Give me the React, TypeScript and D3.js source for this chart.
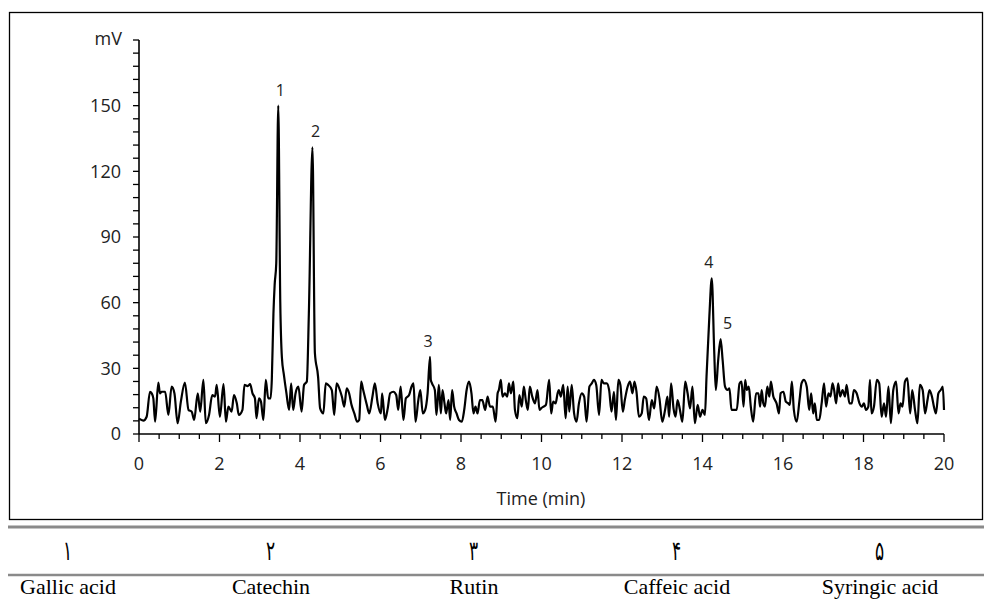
import React from "react";
import * as d3 from "d3";

const timeMin = [
  0.0, 0.108, 0.19, 0.273, 0.315, 0.356, 0.4, 0.48, 0.52, 0.56, 0.65, 0.73, 0.81, 0.88, 0.96, 1.04, 1.14, 1.23, 1.31, 1.37,
  1.46, 1.52, 1.6, 1.66, 1.74, 1.82, 1.89, 1.93, 2.01, 2.1, 2.16, 2.22, 2.3, 2.36, 2.43, 2.48, 2.57, 2.62, 2.7, 2.76,
  2.82, 2.88, 2.92, 2.98, 3.03, 3.09, 3.15, 3.21, 3.27, 3.3, 3.34, 3.37, 3.41, 3.46, 3.51, 3.55, 3.6, 3.66, 3.73, 3.78,
  3.83, 3.89, 3.96, 4.04, 4.1, 4.17, 4.22, 4.31, 4.37, 4.45, 4.5, 4.58, 4.64, 4.7, 4.79, 4.85, 4.91, 4.99, 5.04, 5.1,
  5.16, 5.22, 5.28, 5.35, 5.42, 5.47, 5.52, 5.57, 5.66, 5.72, 5.8, 5.86, 5.93, 6.01, 6.04, 6.11, 6.18, 6.24, 6.32, 6.39,
  6.44, 6.5, 6.57, 6.63, 6.71, 6.77, 6.82, 6.87, 6.94, 6.99, 7.05, 7.11, 7.17, 7.23, 7.25, 7.28, 7.35, 7.39, 7.45, 7.5,
  7.54, 7.59, 7.63, 7.69, 7.73, 7.78, 7.83, 7.89, 7.95, 8.02, 8.08, 8.14, 8.2, 8.26, 8.31, 8.36, 8.41, 8.47, 8.53, 8.6,
  8.66, 8.72, 8.79, 8.86, 8.91, 8.94, 8.99, 9.03, 9.09, 9.15, 9.19, 9.24, 9.3, 9.34, 9.4, 9.45, 9.51, 9.56, 9.61, 9.66,
  9.71, 9.77, 9.84, 9.9, 9.95, 9.99, 10.05, 10.11, 10.19, 10.24, 10.29, 10.35, 10.4, 10.43, 10.48, 10.54, 10.6, 10.65, 10.69, 10.75,
  10.81, 10.87, 10.93, 11.0, 11.06, 11.12, 11.19, 11.25, 11.3, 11.36, 11.43, 11.49, 11.55, 11.62, 11.68, 11.74, 11.8, 11.85, 11.91, 11.96,
  12.02, 12.07, 12.14, 12.2, 12.26, 12.31, 12.36, 12.42, 12.49, 12.54, 12.6, 12.67, 12.74, 12.8, 12.86, 12.93, 13.0, 13.07, 13.13, 13.17,
  13.22, 13.28, 13.33, 13.38, 13.44, 13.5, 13.57, 13.63, 13.69, 13.75, 13.81, 13.88, 13.94, 14.0, 14.06, 14.1, 14.17, 14.23, 14.29, 14.33,
  14.39, 14.45, 14.5, 14.56, 14.62, 14.67, 14.72, 14.78, 14.85, 14.92, 14.97, 15.02, 15.06, 15.1, 15.15, 15.2, 15.26, 15.33, 15.39, 15.43,
  15.47, 15.51, 15.55, 15.61, 15.66, 15.7, 15.76, 15.8, 15.84, 15.9, 15.94, 16.01, 16.07, 16.13, 16.17, 16.22, 16.27, 16.34, 16.41, 16.46,
  16.52, 16.59, 16.65, 16.7, 16.75, 16.79, 16.84, 16.9, 16.96, 17.02, 17.07, 17.13, 17.18, 17.23, 17.27, 17.32, 17.37, 17.42, 17.48, 17.54,
  17.58, 17.65, 17.71, 17.76, 17.83, 17.9, 17.96, 18.01, 18.06, 18.12, 18.16, 18.2, 18.26, 18.33, 18.39, 18.45, 18.51, 18.56, 18.62, 18.68,
  18.74, 18.81, 18.87, 18.92, 18.97, 19.03, 19.09, 19.16, 19.21, 19.28, 19.34, 19.4, 19.47, 19.53, 19.59, 19.64, 19.7, 19.75, 19.8, 19.86,
  19.92, 19.97, 20.0,
];

const signalMv = [
  7.0, 6.1, 7.9, 19.3, 18.6, 16.3, 5.6, 23.5, 18.6, 19.3, 19.3, 8.7, 21.6, 18.6, 4.9, 14.8, 23.5, 11.0, 10.2, 6.4,
  18.6, 10.2, 24.7, 4.9, 8.7, 17.8, 17.1, 22.4, 7.9, 22.8, 5.6, 12.5, 10.2, 17.8, 14.0, 8.7, 11.0, 22.4, 21.9, 22.8,
  18.6, 16.3, 7.2, 16.3, 14.8, 6.4, 24.7, 16.3, 16.3, 25.0, 55.0, 68.0, 78.0, 150.0, 60.0, 35.0, 27.0, 19.0, 11.0, 23.1,
  11.0, 18.6, 21.6, 10.2, 22.4, 24.0, 55.0, 131.0, 37.0, 26.0, 11.7, 9.4, 23.1, 22.4, 20.1, 8.7, 23.1, 20.1, 17.1, 12.5,
  20.9, 18.6, 13.3, 9.4, 5.6, 6.4, 23.9, 20.1, 13.3, 9.4, 17.1, 23.1, 14.0, 9.4, 18.6, 6.4, 11.7, 18.6, 19.3, 17.8,
  11.0, 21.6, 6.4, 16.3, 17.8, 21.6, 23.1, 5.6, 15.5, 20.1, 9.4, 11.0, 18.6, 35.3, 24.7, 23.1, 20.1, 8.7, 22.4, 9.4,
  20.1, 14.0, 9.4, 15.5, 6.4, 20.1, 12.5, 9.4, 6.4, 5.6, 11.0, 20.1, 23.9, 18.6, 9.4, 12.5, 9.4, 15.5, 15.5, 11.0,
  17.1, 12.5, 12.5, 5.6, 18.6, 20.1, 24.7, 17.1, 18.6, 17.1, 23.1, 18.6, 23.9, 11.0, 7.2, 17.8, 12.5, 21.6, 15.5, 11.0,
  21.6, 17.1, 14.0, 20.1, 11.0, 11.7, 12.5, 13.3, 24.7, 9.4, 14.8, 14.0, 18.6, 20.1, 17.1, 22.4, 7.2, 21.6, 10.2, 22.4,
  9.4, 5.6, 14.0, 18.6, 17.1, 5.6, 21.6, 23.1, 24.7, 22.4, 8.7, 24.7, 23.1, 23.1, 20.1, 10.2, 19.3, 6.4, 24.7, 22.4,
  10.2, 15.5, 21.6, 23.9, 18.6, 23.9, 19.3, 7.9, 9.4, 17.1, 16.3, 6.4, 15.5, 11.7, 21.6, 16.3, 5.6, 11.0, 17.1, 7.9,
  23.1, 11.7, 7.9, 15.5, 11.0, 5.6, 23.9, 18.6, 11.7, 21.6, 4.9, 13.3, 7.9, 11.0, 8.7, 26.2, 53.6, 71.1, 38.4, 20.1,
  33.8, 43.3, 33.8, 21.6, 20.1, 20.9, 11.0, 11.0, 11.0, 23.1, 23.9, 12.5, 24.7, 20.1, 21.6, 12.5, 5.6, 18.6, 18.6, 12.5,
  20.1, 14.0, 12.5, 21.6, 17.1, 23.9, 17.1, 15.5, 14.0, 9.4, 18.6, 19.3, 14.8, 14.0, 13.3, 23.9, 11.0, 5.6, 15.5, 23.1,
  24.7, 21.6, 11.0, 18.6, 9.4, 14.0, 6.4, 6.4, 14.0, 23.1, 12.5, 18.6, 17.1, 23.1, 20.1, 14.0, 23.1, 17.1, 20.1, 17.1,
  22.4, 14.0, 14.0, 20.1, 18.6, 14.0, 12.5, 14.0, 11.0, 12.5, 24.7, 9.4, 12.5, 24.7, 23.1, 7.9, 14.0, 7.9, 21.6, 4.9,
  20.1, 23.9, 9.4, 14.0, 12.5, 23.9, 25.4, 9.4, 20.1, 11.0, 4.9, 22.4, 20.1, 9.4, 15.5, 20.1, 17.1, 12.5, 9.4, 18.6,
  20.1, 21.6, 11.0,
];

const xTicks = [0, 2, 4, 6, 8, 10, 12, 14, 16, 18, 20];
const yTicks = [0, 30, 60, 90, 120, 150];
const peakNumbers = ["1", "2", "3", "4", "5"];
const peakTimes = [3.46, 4.31, 7.23, 14.23, 14.45];
const peakHeights = [150, 131, 35.3, 71.1, 43.3];
const compoundNumbers = ["۱", "۲", "۳", "۴", "۵"];
const compoundNames = ["Gallic acid", "Catechin", "Rutin", "Caffeic acid", "Syringic acid"];

export default function App() {
  const W = 984;
  const H = 599;
  const x = d3.scaleLinear().domain([0, 20]).range([139, 944]);
  const y = d3.scaleLinear().domain([0, 180]).range([434, 40]);
  const pts: [number, number][] = timeMin.map((t, i) => [t, signalMv[i]]);
  const line = d3
    .line<[number, number]>()
    .x((d) => x(d[0]))
    .y((d) => y(d[1]))
    .curve(d3.curveMonotoneX);

  const minorX = d3.range(0, 20.001, 0.5);
  const minorY = d3.range(0, 180.001, 6);
  const labelDx = [2, 3, -2, -3, 7];
  const tickFont = "'Open Sans', sans-serif";
  const colCenters = [68, 271, 474, 677, 880];

  return (
    <svg
      width={W}
      height={H}
      viewBox={`0 0 ${W} ${H}`}
      style={{ position: "absolute", left: 0, top: 0, background: "#fff" }}
    >
      <rect x={0} y={0} width={W} height={H} fill="#fff" />
      <rect x={9.5} y={12.5} width={973} height={507} fill="none" stroke="#000" strokeWidth={1.3} />

      {/* y axis */}
      <line x1={139} x2={139} y1={y(180)} y2={y(0)} stroke="#000" strokeWidth={1.6} />
      {minorY.map((v) => (
        <line key={"my" + v} x1={133} x2={139} y1={y(v)} y2={y(v)} stroke="#000" strokeWidth={1.3} />
      ))}
      {yTicks.map((v) => (
        <text
          key={"ty" + v}
          x={121}
          y={y(v)}
          dy="0.36em"
          textAnchor="end"
          fontFamily={tickFont}
          fontSize={18}
          fill="#222"
        >
          {v}
        </text>
      ))}
      <text x={122} y={y(180)} dy="0.3em" textAnchor="end" fontFamily={tickFont} fontSize={18} fill="#222">
        mV
      </text>

      {/* x axis */}
      <line x1={x(0)} x2={x(20)} y1={434} y2={434} stroke="#000" strokeWidth={1.6} />
      {minorX.map((t) => (
        <line
          key={"mx" + t}
          x1={x(t)}
          x2={x(t)}
          y1={434}
          y2={t % 2 === 0 ? 442 : 439}
          stroke="#000"
          strokeWidth={1.3}
        />
      ))}
      {xTicks.map((t) => (
        <text
          key={"tx" + t}
          x={x(t)}
          y={464}
          dy="0.36em"
          textAnchor="middle"
          fontFamily={tickFont}
          fontSize={18}
          fill="#222"
        >
          {t}
        </text>
      ))}
      <text x={541} y={499} dy="0.36em" textAnchor="middle" fontFamily={tickFont} fontSize={18} fill="#222">
        Time (min)
      </text>

      {/* trace */}
      <path d={line(pts) || ""} fill="none" stroke="#000" strokeWidth={2.2} strokeLinejoin="round" />

      {peakNumbers.map((p, i) => (
        <text
          key={"pk" + p}
          x={x(peakTimes[i]) + labelDx[i]}
          y={y(peakHeights[i]) - 10}
          textAnchor="middle"
          fontFamily={tickFont}
          fontSize={16}
          fill="#222"
        >
          {p}
        </text>
      ))}

      {/* table */}
      <line x1={8} x2={984} y1={527} y2={527} stroke="#8a8a8a" strokeWidth={3} />
      <line x1={8} x2={984} y1={575} y2={575} stroke="#8a8a8a" strokeWidth={2.5} />
      {compoundNumbers.map((n, i) => (
        <g key={"cn" + i} transform={`translate(${colCenters[i]},551) scale(0.85,1.35)`}>
          <text
            x={0}
            y={0}
            dy="0.35em"
            textAnchor="middle"
            fontFamily="'DejaVu Sans', sans-serif"
            fontWeight={200}
            fontSize={20}
            fill="#000"
          >
            {n}
          </text>
        </g>
      ))}
      {compoundNames.map((n, i) => (
        <text
          key={"nm" + i}
          x={colCenters[i]}
          y={594}
          textAnchor="middle"
          fontFamily="'Liberation Serif', 'Times New Roman', serif"
          fontSize={22}
          fill="#000"
        >
          {n}
        </text>
      ))}
    </svg>
  );
}
